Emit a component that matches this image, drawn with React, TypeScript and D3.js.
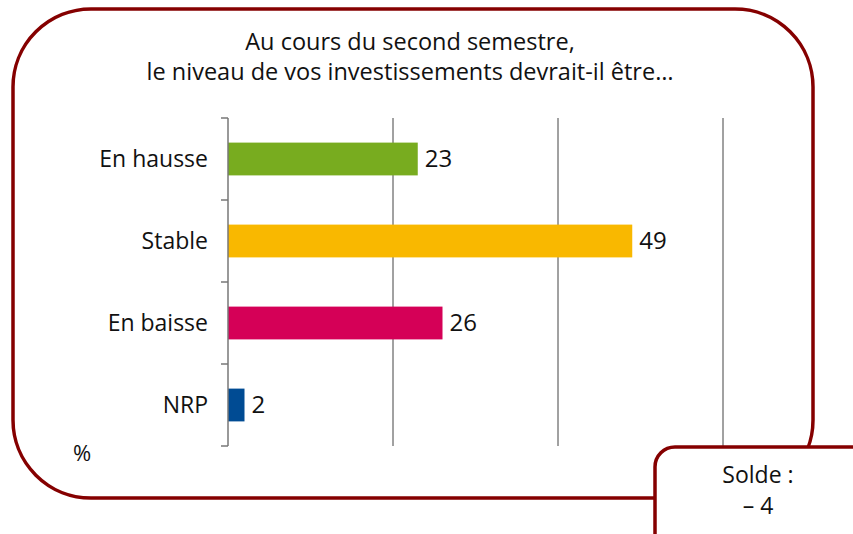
import React from "react";
import * as d3 from "d3";

const categories = ["En hausse", "Stable", "En baisse", "NRP"];
const values = [23, 49, 26, 2];
const colors = ["#78ac1f", "#f9b800", "#d50057", "#004b93"];
const gridTicks = [20, 40, 60];
const titleLines = ["Au cours du second semestre,", "le niveau de vos investissements devrait-il être…"];
const soldeLines = ["Solde :", "– 4"];

const W = 853;
const H = 534;
const FONT = "'Open Sans', 'Noto Sans', sans-serif";
const BORDER = "#850000";
const FS = 23;

export default function App() {
  const x = d3.scaleLinear().domain([0, 60]).range([228, 723]);
  const y = d3.scaleBand<string>().domain(categories).range([118, 446]).paddingInner(0.6).paddingOuter(0.3);
  const step = y.step();
  const gap = (step - y.bandwidth()) / 2;
  const boundaries = categories.map((c) => (y(c) as number) - gap).concat([446]);

  return (
    <svg width={W} height={H} style={{ position: "absolute", left: 0, top: 0, background: "#fff" }} fontFamily={FONT}>
      <rect x={13} y={9} width={800} height={489} rx={78} ry={78} fill="#fff" stroke={BORDER} strokeWidth={3.5} />
      {titleLines.map((t, i) => (
        <text key={i} x={410} y={50 + i * 30} textAnchor="middle" fontSize={23.5} fill="#111">
          {t}
        </text>
      ))}
      {gridTicks.map((t) => (
        <line key={t} x1={x(t)} x2={x(t)} y1={118} y2={446} stroke="#444" strokeWidth={1} />
      ))}
      {categories.map((c, i) => (
        <g key={c}>
          <rect x={x(0)} y={y(c)} width={x(values[i]) - x(0)} height={y.bandwidth()} fill={colors[i]} />
          <text x={x(values[i]) + 7} y={(y(c) as number) + y.bandwidth() / 2} dy="0.33em" fontSize={24} fill="#111">
            {values[i]}
          </text>
          <text x={208} y={(y(c) as number) + y.bandwidth() / 2} dy="0.33em" textAnchor="end" fontSize={FS} fill="#111">
            {c}
          </text>
        </g>
      ))}
      <line x1={x(0)} x2={x(0)} y1={118} y2={446} stroke="#777" strokeWidth={1.5} />
      {boundaries.map((b, i) => (
        <line key={i} x1={221} x2={x(0)} y1={b} y2={b} stroke="#777" strokeWidth={1.5} />
      ))}
      <text x={73} y={461} fontSize={22} fill="#111">%</text>
      <rect x={655} y={447} width={220} height={110} rx={20} ry={20} fill="#fff" stroke={BORDER} strokeWidth={3.5} />
      {soldeLines.map((t, i) => (
        <text key={i} x={758} y={483 + i * 31} textAnchor="middle" fontSize={FS} fill="#111">
          {t}
        </text>
      ))}
    </svg>
  );
}
